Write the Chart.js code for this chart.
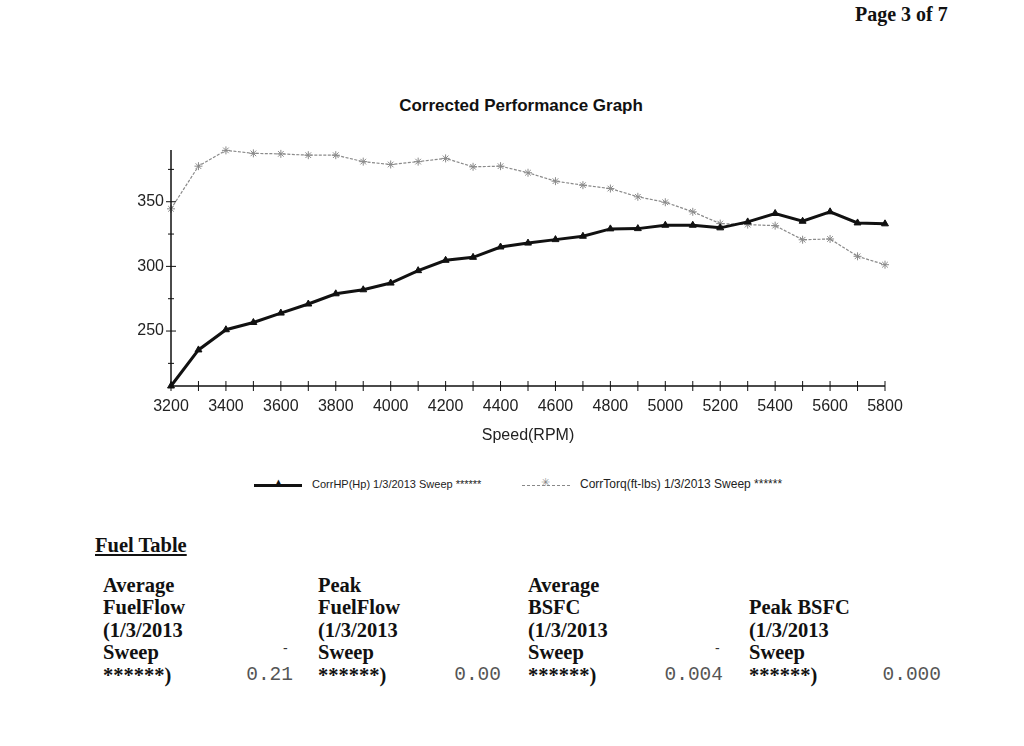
<!DOCTYPE html>
<html>
<head>
	<meta charset="utf-8">
	<title>Corrected Performance Graph</title>
	<style>
		body { margin: 0; background: #fff; width: 1024px; height: 746px; position: relative; overflow: hidden; font-family: "Liberation Sans", Arial, sans-serif; }
		#page { position: absolute; left: 855px; top: 3px; font: bold 20px "Liberation Serif", serif; color: #111; }
		#title { position: absolute; left: 0; width: 1042px; top: 96px; text-align: center; font: bold 17px "Liberation Sans", Arial, sans-serif; color: #111; }
		#wrap { position: absolute; left: 0; top: 0; width: 1024px; height: 460px; }
		#legend { position: absolute; top: 478px; left: 0; width: 1024px; height: 16px; font-size: 11px; color: #222; }
		.leg { position: absolute; top: 0; white-space: nowrap; }
		.swatch { display: inline-block; position: relative; width: 48px; height: 12px; vertical-align: middle; margin-right: 10px; }
		.swatch .ln { position: absolute; left: 0; right: 0; top: 5px; }
		.swatch .mk { position: absolute; left: 19px; top: -3px; font-size: 11px; }
		#fuelTitle { position: absolute; left: 95px; top: 534px; font: bold 20.5px "Liberation Serif", serif; text-decoration: underline; color: #111; }
		.fcol { position: absolute; font: bold 20.5px/22.4px "Liberation Serif", serif; color: #111; }
		.fval { position: absolute; font: 19.5px "Liberation Mono", monospace; color: #555; text-align: right; width: 90px; }
		.fdash { position: absolute; font: 14px "Liberation Sans", sans-serif; color: #333; }
	</style>
</head>
<body>
	<div id="page">Page 3 of 7</div>
	<div id="title">Corrected Performance Graph</div>
	<div id="wrap"><canvas id="myChart"></canvas></div>
	<div id="legend"></div>
	<div id="fuelTitle">Fuel Table</div>
	<div id="fuel"></div>
	<script type="text/javascript" src="https://cdn.jsdelivr.net/npm/chart.js@4.4.1/dist/chart.umd.min.js"></script>
	<script type="text/javascript">
		// values
		let rpm = [3200, 3300, 3400, 3500, 3600, 3700, 3800, 3900, 4000, 4100, 4200, 4300, 4400, 4500,
			4600, 4700, 4800, 4900, 5000, 5100, 5200, 5300, 5400, 5500, 5600, 5700, 5800];
		let corrHp = [207.5, 235.4, 251, 256.6, 263.9, 270.9, 278.8, 281.9, 287.1, 296.7, 304.7, 307, 315, 318,
			320.7, 323.3, 329, 329.2, 331.8, 331.8, 329.8, 334.4, 340.9, 334.9, 342.2, 333.6, 332.9];
		let corrTorq = [344.5, 377.5, 389.7, 387.4, 387, 386, 386, 381, 378.8, 381, 383.5, 377, 377.5, 372.4,
			365.9, 362.8, 360.2, 353.8, 349.6, 342.2, 333.1, 332.3, 331.5, 320.6, 321.2, 307.8, 301.3];
		let seriesNames = ["CorrHP(Hp) 1/3/2013 Sweep ******", "CorrTorq(ft-lbs) 1/3/2013 Sweep ******"];
		let yTicks = [225, 250, 275, 300, 325, 350, 375];
		let yLabelled = [250, 300, 350];

		let fuelHeads = [
			["Average", "FuelFlow", "(1/3/2013", "Sweep", "******)"],
			["Peak", "FuelFlow", "(1/3/2013", "Sweep", "******)"],
			["Average", "BSFC", "(1/3/2013", "Sweep", "******)"],
			["", "Peak BSFC", "(1/3/2013", "Sweep", "******)"],
		];
		let fuelValues = ["0.21", "0.00", "0.004", "0.000"];

		function pairs(ys) {
			return rpm.map((x, i) => ({x: x, y: ys[i]}));
		}

		// axis ticks that cross the axis line, like the printout
		let crossTicks = {
			id: "crossTicks",
			afterDraw(chart) {
				let c = chart.ctx, xs = chart.scales.x, ys = chart.scales.y;
				let a = chart.chartArea;
				c.save();
				c.strokeStyle = "#111";
				c.lineWidth = 1.5;
				c.beginPath();
				c.moveTo(a.left, a.top);
				c.lineTo(a.left, a.bottom);
				c.lineTo(a.right, a.bottom);
				c.stroke();
				c.lineWidth = 1;
				for (let v = 3200; v <= 5800; v += 100) {
					let px = xs.getPixelForValue(v);
					c.beginPath();
					c.moveTo(px, a.bottom - 5);
					c.lineTo(px, a.bottom + 5);
					c.stroke();
				}
				yTicks.forEach(v => {
					let py = ys.getPixelForValue(v);
					let w = yLabelled.includes(v) ? 5 : 3;
					c.beginPath();
					c.moveTo(a.left - w, py);
					c.lineTo(a.left + w, py);
					c.stroke();
				});
				c.restore();
			}
		};

		let ctx = document.getElementById("myChart").getContext("2d");
		let config = {
			type: "line",
			data: {
				datasets: [
					{
						label: seriesNames[0],
						data: pairs(corrHp),
						borderColor: "#111",
						backgroundColor: "#111",
						borderWidth: 3,
						pointStyle: "triangle",
						pointRadius: 4,
						pointBorderWidth: 1,
						tension: 0,
						clip: false,
					},
					{
						label: seriesNames[1],
						data: pairs(corrTorq),
						borderColor: "#8a8a8a",
						backgroundColor: "#8a8a8a",
						borderWidth: 1.2,
						borderDash: [3, 1.5],
						pointStyle: "star",
						pointRadius: 4,
						pointBorderWidth: 1,
						tension: 0,
						clip: false,
					},
				]
			},
			options: {
				responsive: true,
				maintainAspectRatio: false,
				animation: false,
				layout: { padding: { top: 150, right: 139, bottom: 0, left: 0 } },
				plugins: {
					legend: { display: false },
					title: { display: false },
					tooltip: { enabled: false },
				},
				scales: {
					x: {
						type: "linear",
						min: 3200,
						max: 5800,
						afterBuildTicks: s => { s.ticks = rpm.map(v => ({value: v})); },
						afterFit: s => { s.height = 74; },
						grid: { display: false, drawTicks: false },
						border: { display: false },
						ticks: {
							autoSkip: false,
							maxRotation: 0,
							padding: 11,
							color: "#222",
							font: { family: "Liberation Sans", size: 16 },
							callback: v => (v % 200 == 0 ? String(v) : ""),
						},
						title: {
							display: true,
							text: "Speed(RPM)",
							color: "#222",
							font: { family: "Liberation Sans", size: 16 },
							padding: { top: 4, bottom: 15 },
						},
					},
					y: {
						min: 207.5,
						max: 390,
						afterBuildTicks: s => { s.ticks = yTicks.map(v => ({value: v})); },
						afterFit: s => { s.width = 171; },
						grid: { display: false, drawTicks: false },
						border: { display: false },
						ticks: {
							padding: 7,
							color: "#222",
							font: { family: "Liberation Sans", size: 16 },
							callback: v => (yLabelled.includes(v) ? String(v) : ""),
						},
					},
				},
			},
			plugins: [crossTicks],
		};

		let myChart = new Chart(ctx, config);

		// legend
		let legend = document.getElementById("legend");
		legend.innerHTML =
			'<div class="leg" style="left:254px"><span class="swatch"><span class="ln" style="border-top:3px solid #111"></span>' +
			'<span class="mk" style="color:#111">&#9650;</span></span>' + seriesNames[0] + '</div>' +
			'<div class="leg" style="left:522px;font-size:12px;top:-1px"><span class="swatch"><span class="ln" style="border-top:1px dashed #888;top:6px"></span>' +
			'<span class="mk" style="color:#888">&#10035;</span></span>' + seriesNames[1] + '</div>';

		// fuel table
		let fuel = document.getElementById("fuel");
		let colLeft = [103, 318, 528, 749];
		let valRight = [293, 501, 723, 941];
		let html = "";
		fuelHeads.forEach((lines, i) => {
			html += '<div class="fcol" style="left:' + colLeft[i] + 'px;top:574px">' + lines.map(l => l || "&nbsp;").join("<br>") + '</div>';
			html += '<div class="fval" style="left:' + (valRight[i] - 90) + 'px;top:664px">' + fuelValues[i] + '</div>';
		});
		html += '<div class="fdash" style="left:283px;top:640px">-</div>';
		html += '<div class="fdash" style="left:715px;top:640px">-</div>';
		fuel.innerHTML = html;
	</script>
</body>
</html>
